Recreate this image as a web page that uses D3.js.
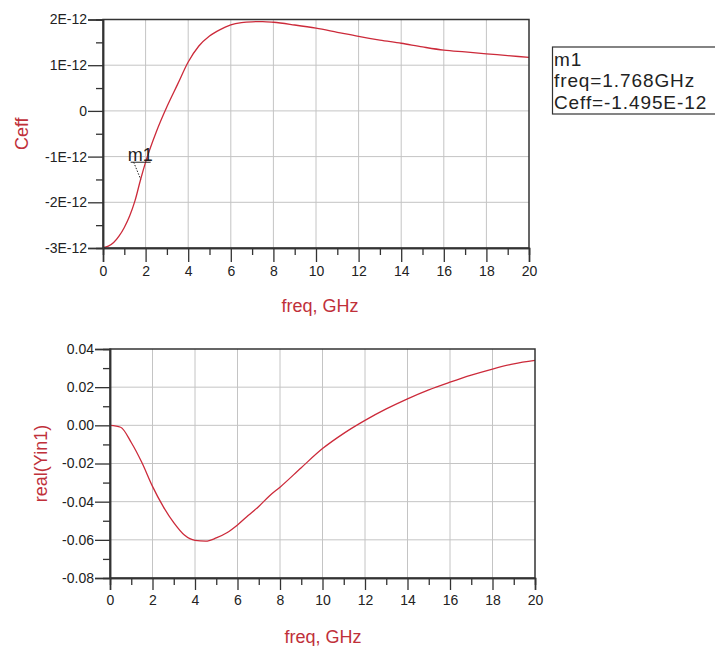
<!DOCTYPE html>
<html><head><meta charset="utf-8">
<script src="https://cdn.jsdelivr.net/npm/d3@7"></script>
<style>
body{margin:0;background:#fff;}
svg{display:block;font-family:"Liberation Sans",Arial,sans-serif;}
</style></head>
<body><svg id="c" width="715" height="646"></svg>
<script>
// ---- data ----
const freqTop = [0,0.25,0.5,0.75,1.0,1.25,1.5,1.768,2.0,2.5,3.0,3.5,4.0,4.5,5.0,5.5,6.0,6.5,7.0,7.5,8.0,9,10,11,12,13,14,15,16,17,18,19,20];
const ceff = [-2.99,-2.96,-2.88,-2.74,-2.55,-2.30,-1.97,-1.495,-1.12,-0.46,0.09,0.58,1.07,1.42,1.64,1.78,1.88,1.93,1.95,1.955,1.94,1.88,1.81,1.72,1.63,1.55,1.48,1.40,1.33,1.29,1.25,1.21,1.17].map(v=>v*1e-12);
const freqBot = [0,0.5,1.0,1.5,2.0,2.5,3.0,3.5,4.0,4.5,5.0,5.5,6.0,6.5,7.0,7.5,8.0,9,10,11,12,13,14,15,16,17,18,19,20];
const realYin = [0.000,-0.001,-0.009,-0.0195,-0.032,-0.0425,-0.051,-0.0575,-0.0603,-0.0607,-0.059,-0.0563,-0.0522,-0.0473,-0.0425,-0.037,-0.0324,-0.0222,-0.0122,-0.0042,0.0026,0.0086,0.0139,0.0186,0.0226,0.0263,0.0295,0.0322,0.034];
const xTicks = [0,2,4,6,8,10,12,14,16,18,20];
const xMinor = [1,3,5,7,9,11,13,15,17,19];
const yTopTicks = [2e-12,1e-12,0,-1e-12,-2e-12,-3e-12];
const yTopLabels = ["2E-12","1E-12","0","-1E-12","-2E-12","-3E-12"];
const yTopMinor = [1.5e-12,0.5e-12,-0.5e-12,-1.5e-12,-2.5e-12];
const yBotTicks = [0.04,0.02,0.00,-0.02,-0.04,-0.06,-0.08];
const yBotLabels = ["0.04","0.02","0.00","-0.02","-0.04","-0.06","-0.08"];
const yBotMinor = [0.03,0.01,-0.01,-0.03,-0.05,-0.07];
const marker = {name:"m1", freq:1.768, value:-1.495e-12};
const markerLines = ["m1","freq=1.768GHz","Ceff=-1.495E-12"];

const RED = "#cc2a3a", LRED = "#c0303a", INK = "#222";
const svg = d3.select("#c");

function panel(o){
  const x = d3.scaleLinear().domain([0,20]).range([o.x0,o.x1]);
  const y = d3.scaleLinear().domain(o.ydom).range([o.y1,o.y0]);
  const g = svg.append("g");
  // grid
  g.append("g").selectAll("line").data(xTicks.slice(1,-1)).join("line")
    .attr("x1",d=>x(d)).attr("x2",d=>x(d)).attr("y1",o.y0).attr("y2",o.y1)
    .attr("stroke","#c4c4c4").attr("stroke-width",1);
  g.append("g").selectAll("line").data(o.yt.slice(1,-1)).join("line")
    .attr("y1",d=>y(d)).attr("y2",d=>y(d)).attr("x1",o.x0).attr("x2",o.x1)
    .attr("stroke","#c4c4c4").attr("stroke-width",1);
  // curve
  const line = d3.line().x(d=>x(d[0])).y(d=>y(d[1])).curve(d3.curveMonotoneX);
  g.append("path").datum(o.fx.map((f,i)=>[f,o.vals[i]]))
    .attr("d",line).attr("fill","none").attr("stroke",RED).attr("stroke-width",1.3);
  // frame
  g.append("rect").attr("x",o.x0).attr("y",o.y0).attr("width",o.x1-o.x0).attr("height",o.y1-o.y0)
    .attr("fill","none").attr("stroke","#333").attr("stroke-width",1.5);
  // axes
  const ax = g.append("g").attr("transform",`translate(0,${o.y1})`)
    .call(d3.axisBottom(x).tickValues(xTicks).tickSize(o.xtick).tickPadding(o.xpad).tickFormat(d3.format("d")));
  const axm = g.append("g").attr("transform",`translate(0,${o.y1})`)
    .call(d3.axisBottom(x).tickValues(xMinor).tickSize(7).tickFormat(""));
  const ay = g.append("g").attr("transform",`translate(${o.x0},0)`)
    .call(d3.axisLeft(y).tickValues(o.yt).tickSize(15).tickPadding(1).tickFormat((d,i)=>o.ylab[i]));
  const aym = g.append("g").attr("transform",`translate(${o.x0},0)`)
    .call(d3.axisLeft(y).tickValues(o.ym).tickSize(7).tickFormat(""));
  [ax,axm,ay,aym].forEach(a=>{
    a.select(".domain").attr("stroke","#333").attr("stroke-width",1.5);
    a.selectAll(".tick line").attr("stroke","#333").attr("stroke-width",1.3);
    a.selectAll("text").attr("font-size",14).attr("fill",INK).attr("font-family","Liberation Sans, Arial, sans-serif");
  });
  // titles
  g.append("text").attr("x",o.xtitleX).attr("y",o.xtitleY).attr("text-anchor","middle")
    .attr("font-size",18).attr("fill",LRED).text("freq, GHz");
  g.append("text").attr("transform",`translate(${o.ytitleX},${(o.y0+o.y1)/2}) rotate(-90)`)
    .attr("text-anchor","middle").attr("font-size",18).attr("fill",LRED).text(o.ytitle);
  return {x,y};
}

const topP = panel({x0:103,x1:529,y0:19.5,y1:248,ydom:[-3e-12,2e-12],yt:yTopTicks,ylab:yTopLabels,ym:yTopMinor,
  fx:freqTop,vals:ceff,xtick:14,xpad:4,xtitleX:320,xtitleY:312,ytitleX:28,ytitle:"Ceff"});
const botP = panel({x0:110,x1:535,y0:349,y1:578,ydom:[-0.08,0.04],yt:yBotTicks,ylab:yBotLabels,ym:yBotMinor,
  fx:freqBot,vals:realYin,xtick:12,xpad:5,xtitleX:323,xtitleY:643,ytitleX:47,ytitle:"real(Yin1)"});

// marker
const mx = topP.x(marker.freq), my = topP.y(marker.value);
svg.append("text").attr("x",mx-13).attr("y",my-18).attr("font-size",18).attr("fill",INK).text(marker.name);
svg.append("line").attr("x1",mx-10).attr("x2",mx+10).attr("y1",my-17).attr("y2",my-17).attr("stroke",INK).attr("stroke-width",1);
svg.append("line").attr("x1",mx-7).attr("y1",my-17).attr("x2",mx).attr("y2",my)
  .attr("stroke",INK).attr("stroke-width",1).attr("stroke-dasharray","1.5,1.5");

// marker readout box
const bx = 552.5, by = 47;
svg.append("rect").attr("x",bx).attr("y",by).attr("width",200).attr("height",67)
  .attr("fill","#fff").attr("stroke","#333").attr("stroke-width",1.2);
svg.append("g").selectAll("text").data(markerLines).join("text")
  .attr("x",bx+1.5).attr("y",(d,i)=>by+19+i*21.3).attr("font-size",19).attr("letter-spacing",0.9)
  .attr("fill",INK).text(d=>d);
</script></body></html>
